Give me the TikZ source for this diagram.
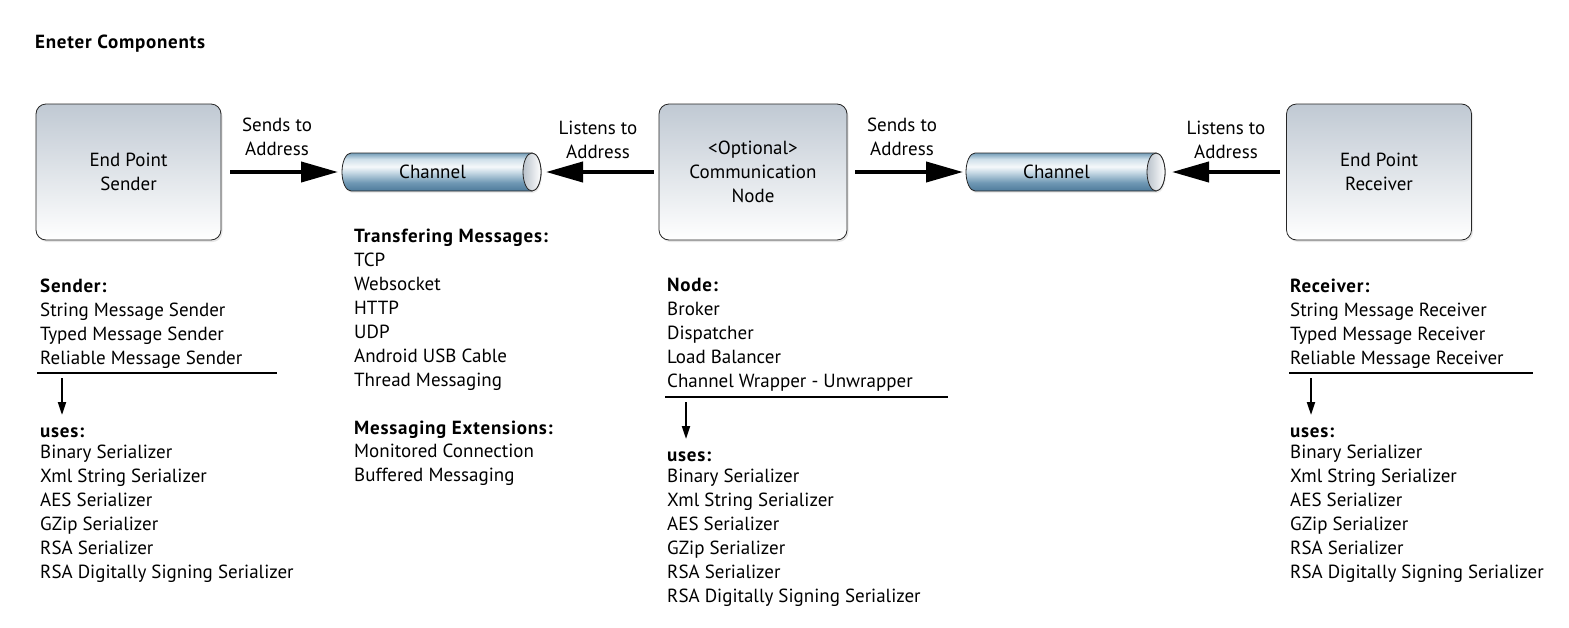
\documentclass[tikz,border=0pt]{standalone}
\usepackage{fontspec}
\setmainfont{PT Sans}[BoldFeatures={LetterSpace=4}]
\usetikzlibrary{arrows.meta,shadows,calc}
\definecolor{boxtop}{HTML}{C0C9D3}
\definecolor{cbA}{HTML}{4E7B9B}
\definecolor{cbB}{HTML}{6F98B4}
\definecolor{cbC}{HTML}{C9DBE6}
\definecolor{cbW}{HTML}{F5F8FA}
\definecolor{cbD}{HTML}{CFE0EA}
\definecolor{cbE}{HTML}{749DB8}
\definecolor{capgray}{HTML}{B9C2CB}
\pgfdeclareverticalshading{chanshade}{100bp}{color(0bp)=(cbA); color(25bp)=(cbA); color(36bp)=(cbB); color(50bp)=(cbC); color(57bp)=(cbW); color(67bp)=(cbD); color(75bp)=(cbE); color(100bp)=(cbE)}
\newcommand\drawchannel[1]{%
  \path[draw=black!85,line width=0.8pt,shading=chanshade,
        drop shadow={opacity=0.15,shadow xshift=1pt,shadow yshift=-2pt}]
    ($(#1.north west)+(9,0)$) -- ($(#1.north east)+(-9,0)$)
    arc[start angle=-90,end angle=90,x radius=9,y radius=19]
    -- ($(#1.south west)+(9,0)$)
    arc[start angle=90,end angle=270,x radius=9,y radius=19] -- cycle;
  \path[draw=black!85,line width=0.8pt,left color=capgray,right color=white]
    ($(#1.east)+(-9,0)$) ellipse[x radius=9,y radius=19];
}
\tikzset{
  txt/.style={font=\fontsize{19}{24}\selectfont},
  box/.style={txt,draw=black!85,line width=0.8pt,rounded corners=10pt,
    minimum height=136pt,top color=boxtop,bottom color=white,align=center,
    inner sep=0pt,
    drop shadow={opacity=0.2,shadow xshift=1.5pt,shadow yshift=-2pt}},
  chan/.style={minimum width=199pt,minimum height=38pt,inner sep=0pt,outer sep=0pt},
  lbl/.style={txt,align=center,inner sep=0pt},
  block/.style={txt,align=left,anchor=base west,inner sep=0pt},
  bigarrow/.style={line width=4pt,-{Triangle[length=37pt,width=20pt]}},
  downarrow/.style={line width=2pt,-{Triangle[length=13pt,width=8pt]}},
  rule/.style={line width=1.8pt},
}
\begin{document}
\begin{tikzpicture}[x=1pt,y=-1pt]
\useasboundingbox (0,0) rectangle (1569,627);

\node[txt,anchor=west,inner sep=0pt,font=\fontsize{19}{24}\selectfont\bfseries] (title) at (35,44) {Eneter Components};

% boxes
\node[box,minimum width=185pt] (sender) at (128.5,172) {End Point\\Sender};
\node[box,minimum width=188pt] (comm) at (753,172) {<Optional>\\Communication\\Node};
\node[box,minimum width=185pt] (receiver) at (1379,172) {End Point\\Receiver};

% channels
\node[chan] (ch1) at (441.5,172) {};
\drawchannel{ch1}
\node[txt,inner sep=0pt] (ch1t) at ([xshift=-9pt]ch1.center) {Channel};
\node[chan] (ch2) at (1065.5,172) {};
\drawchannel{ch2}
\node[txt,inner sep=0pt] (ch2t) at ([xshift=-9pt]ch2.center) {Channel};

% arrows
\draw[bigarrow,shorten <=9pt,shorten >=4pt] (sender.east) -- (ch1.west);
\draw[bigarrow,shorten <=5pt,shorten >=5pt] (comm.west) -- (ch1.east);
\draw[bigarrow,shorten <=8pt,shorten >=3pt] (comm.east) -- (ch2.west);
\draw[bigarrow,shorten <=6pt,shorten >=7pt] (receiver.west) -- (ch2.east);

% arrow labels
\node[lbl] (l1) at (277,137) {Sends to\\Address};
\node[lbl] (l2) at (598,140) {Listens to\\Address};
\node[lbl] (l3) at (902,137) {Sends to\\Address};
\node[lbl] (l4) at (1226,140) {Listens to\\Address};

% sender block (anchor = baseline of last line)
\node[block] (sendlist) at (40,364) {\textbf{Sender:}\\String Message Sender\\Typed Message Sender\\Reliable Message Sender};
\coordinate (sr1) at (37,373); \coordinate (sr2) at (277,373);
\draw[rule] (sr1) -- (sr2);
\coordinate (sa1) at (62,378); \coordinate (sa2) at (62,415);
\draw[downarrow] (sa1) -- (sa2);
\node[block] (senduses) at (40,578) {\textbf{uses:}\\[-3pt]Binary Serializer\\Xml String Serializer\\AES Serializer\\GZip Serializer\\RSA Serializer\\RSA Digitally Signing Serializer};

% channel block
\node[block] (chlist) at (354,481) {\textbf{Transfering Messages:}\\TCP\\Websocket\\HTTP\\UDP\\Android USB Cable\\Thread Messaging\\[24pt]\textbf{Messaging Extensions:}\\[-1pt]Monitored Connection\\Buffered Messaging};

% node block
\node[block] (nodelist) at (667,387) {\textbf{Node:}\\Broker\\Dispatcher\\Load Balancer\\Channel Wrapper - Unwrapper};
\coordinate (nr1) at (665,397); \coordinate (nr2) at (948,397);
\draw[rule] (nr1) -- (nr2);
\coordinate (na1) at (686,402); \coordinate (na2) at (686,439);
\draw[downarrow] (na1) -- (na2);
\node[block] (nodeuses) at (667,602) {\textbf{uses:}\\[-3pt]Binary Serializer\\Xml String Serializer\\AES Serializer\\GZip Serializer\\RSA Serializer\\RSA Digitally Signing Serializer};

% receiver block
\node[block] (recvlist) at (1290,364) {\textbf{Receiver:}\\String Message Receiver\\Typed Message Receiver\\Reliable Message Receiver};
\coordinate (rr1) at (1289,373); \coordinate (rr2) at (1533,373);
\draw[rule] (rr1) -- (rr2);
\coordinate (ra1) at (1311,378); \coordinate (ra2) at (1311,415);
\draw[downarrow] (ra1) -- (ra2);
\node[block] (recvuses) at (1290,578) {\textbf{uses:}\\[-3pt]Binary Serializer\\Xml String Serializer\\AES Serializer\\GZip Serializer\\RSA Serializer\\RSA Digitally Signing Serializer};
\end{tikzpicture}
\end{document}
